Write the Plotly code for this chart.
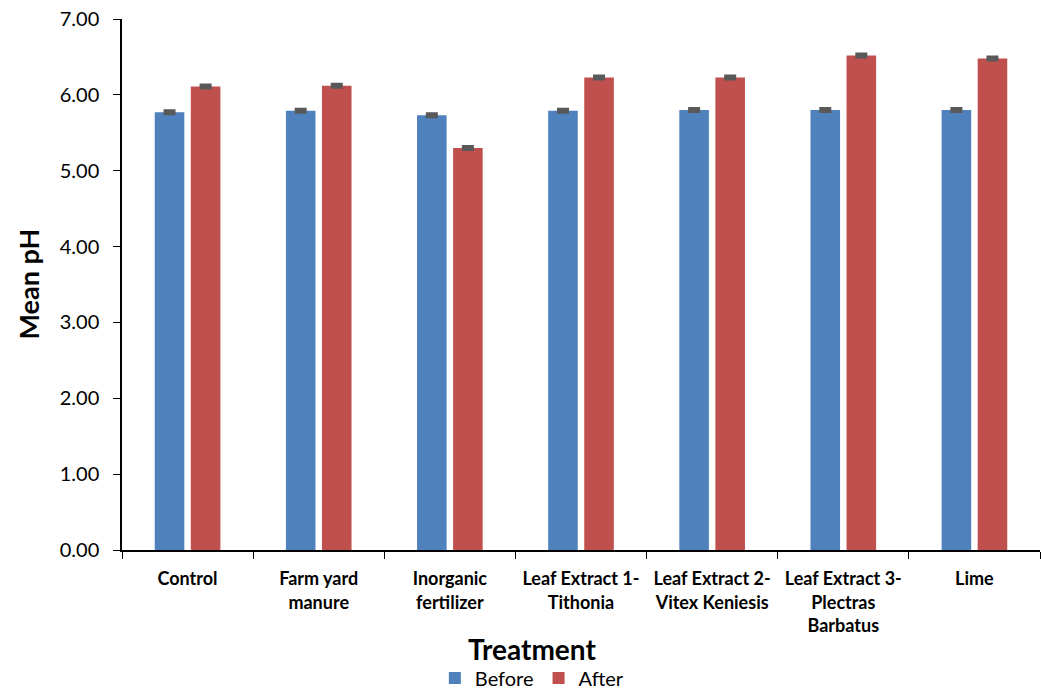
import plotly.graph_objects as go

categories = ["Control", "Farm yard<br>manure", "Inorganic<br>fertilizer",
              "Leaf Extract 1-<br>Tithonia", "Leaf Extract 2-<br>Vitex Keniesis",
              "Leaf Extract 3-<br>Plectras<br>Barbatus", "Lime"]
before = [5.77, 5.79, 5.73, 5.79, 5.80, 5.80, 5.80]
after = [6.11, 6.12, 5.30, 6.23, 6.23, 6.52, 6.48]
before_err = [0.02, 0.02, 0.02, 0.02, 0.02, 0.02, 0.02]
after_err = [0.02, 0.02, 0.02, 0.02, 0.02, 0.02, 0.02]
y_ticks = [0, 1, 2, 3, 4, 5, 6, 7]

FONT = "Lato, Calibri, Carlito, sans-serif"

fig = go.Figure()
fig.add_trace(go.Bar(name="Before", x=categories, y=before, marker_color="#4F81BD",
                     marker_line_width=0,
                     error_y=dict(type="data", array=before_err, color="#595959",
                                  thickness=3, width=6)))
fig.add_trace(go.Bar(name="After", x=categories, y=after, marker_color="#C0504D",
                     marker_line_width=0,
                     error_y=dict(type="data", array=after_err, color="#595959",
                                  thickness=3, width=6)))

# plot area: x 122..1040, y 19..550 (531 px tall)
fig.update_layout(
    width=1041, height=689,
    margin=dict(l=122, r=1, t=19, b=139, autoexpand=False),
    plot_bgcolor="white", paper_bgcolor="white",
    barmode="group", bargap=0.45, bargroupgap=0.18,
    font=dict(family=FONT, color="black"),
    showlegend=True,
    legend=dict(orientation="h", x=0.447, xanchor="center", y=-0.241, yanchor="middle",
                font=dict(size=20, family=FONT), traceorder="normal",
                itemwidth=30, tracegroupgap=0),
    annotations=[
        dict(text="<b>Treatment</b>", x=0.447, xref="paper", y=-0.186,
             yref="paper", yanchor="middle", showarrow=False,
             font=dict(size=28, family=FONT)),
        dict(text="<b>Mean pH</b>", x=0, xref="paper", xshift=-94, xanchor="center",
             y=0.5, yref="paper", yanchor="middle", textangle=-90, showarrow=False,
             font=dict(size=27, family=FONT)),
    ],
)
fig.update_xaxes(showline=True, linecolor="black", linewidth=1.5, automargin=False,
                 ticks="outside", tickson="boundaries", ticklen=7, tickcolor="black",
                 tickfont=dict(size=18, family=FONT), showgrid=False, tickangle=0,
                 ticklabelstandoff=12)
fig.for_each_xaxis(lambda ax: ax.update(ticktext=["<b>" + c + "</b>" for c in categories],
                                        tickvals=categories))
fig.update_yaxes(range=[0, 7], tickvals=y_ticks, tickformat=".2f", automargin=False,
                 showline=True, linecolor="black", linewidth=1.5,
                 ticks="outside", ticklen=7, tickcolor="black",
                 tickfont=dict(size=20, family=FONT), showgrid=False, zeroline=False,
                 ticklabelstandoff=10, ticklabeloverflow="allow")

fig.write_html("out.html", config={"displayModeBar": False},
               post_script="document.body.style.margin='0';document.body.style.overflow='hidden';")
